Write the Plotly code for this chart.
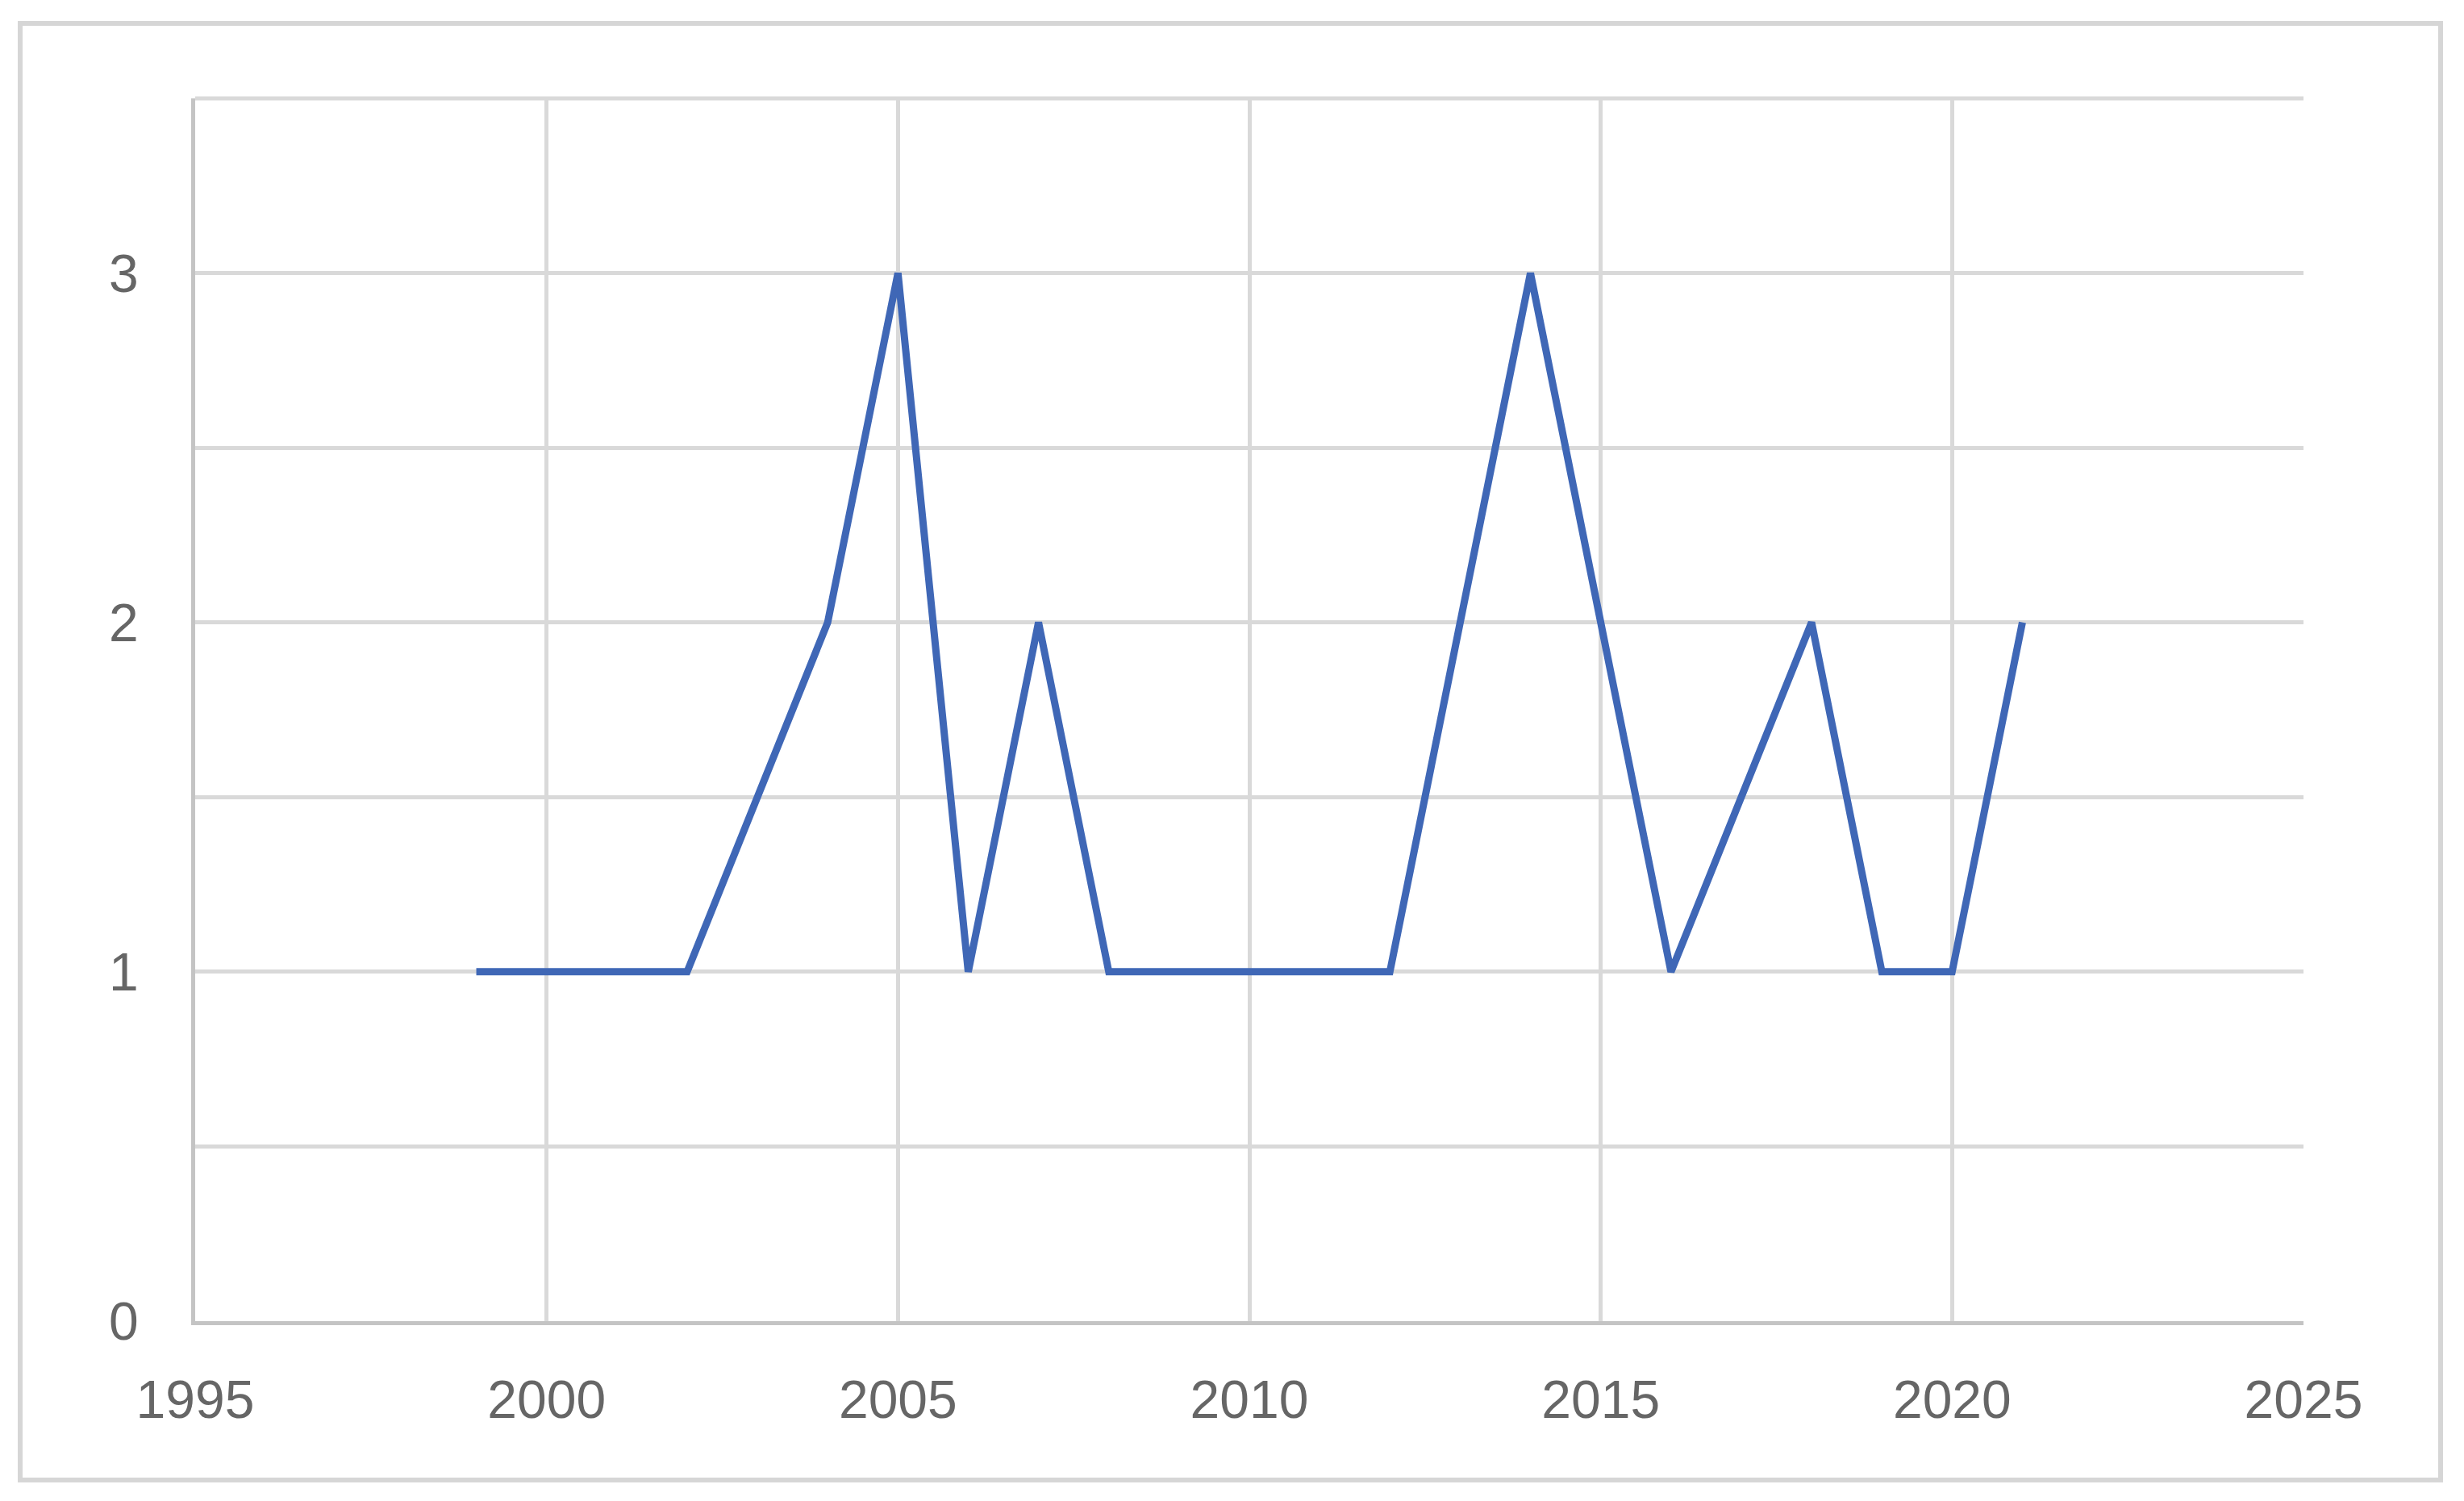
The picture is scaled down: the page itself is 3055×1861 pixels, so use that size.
import plotly.graph_objects as go

years = [1999, 2000, 2001, 2002, 2004, 2005, 2006, 2007, 2008, 2009, 2010, 2011, 2012,
         2014, 2015, 2016, 2018, 2019, 2020, 2021]
counts = [1, 1, 1, 1, 2, 3, 1, 2, 1, 1, 1, 1, 1,
          3, 2, 1, 2, 1, 1, 2]
x_ticks = [1995, 2000, 2005, 2010, 2015, 2020, 2025]
y_ticks = [0, 1, 2, 3]

W, H = 3055, 1861
L, R, T, B = 242, 199, 122, 223

fig = go.Figure()
fig.add_trace(go.Scatter(
    x=years, y=counts, mode="lines",
    line=dict(color="#3F67B6", width=9),
    showlegend=False,
))

grid = "#d9d9d9"
fig.update_layout(
    width=W, height=H,
    margin=dict(l=L, r=R, t=T, b=B),
    paper_bgcolor="white", plot_bgcolor="white",
    font=dict(family="Liberation Sans, Arial", size=66, color="#666666"),
    xaxis=dict(
        range=[1995, 2025], tickvals=x_ticks, ticktext=[str(v) for v in x_ticks],
        showgrid=True, gridcolor=grid, gridwidth=5,
        showline=True, linecolor="#c4c4c4", linewidth=5,
        zeroline=False, ticks="", ticklabelstandoff=36,
    ),
    yaxis=dict(
        range=[0, 3.5], tickvals=y_ticks, ticktext=[str(v) for v in y_ticks],
        showgrid=True, gridcolor=grid, gridwidth=5,
        minor=dict(dtick=0.5, showgrid=True, gridcolor=grid, gridwidth=5, tick0=0),
        showline=True, linecolor="#c4c4c4", linewidth=5,
        zeroline=False, ticks="", ticklabelstandoff=52,
    ),
    shapes=[
        dict(type="rect", xref="paper", yref="paper",
             x0=(25 - L) / (W - L - R), x1=(3026 - L) / (W - L - R),
             y0=(H - B - 1835) / (H - T - B), y1=(H - B - 29) / (H - T - B),
             line=dict(color="#d6d6d6", width=6), fillcolor="rgba(0,0,0,0)", layer="below"),
        dict(type="line", xref="paper", yref="paper", x0=0, x1=1, y0=1, y1=1,
             line=dict(color=grid, width=5), layer="below"),
    ],
)

fig.write_html("out.html", config={"displayModeBar": False},
               post_script="document.body.style.margin='0';document.body.style.overflow='hidden';")
